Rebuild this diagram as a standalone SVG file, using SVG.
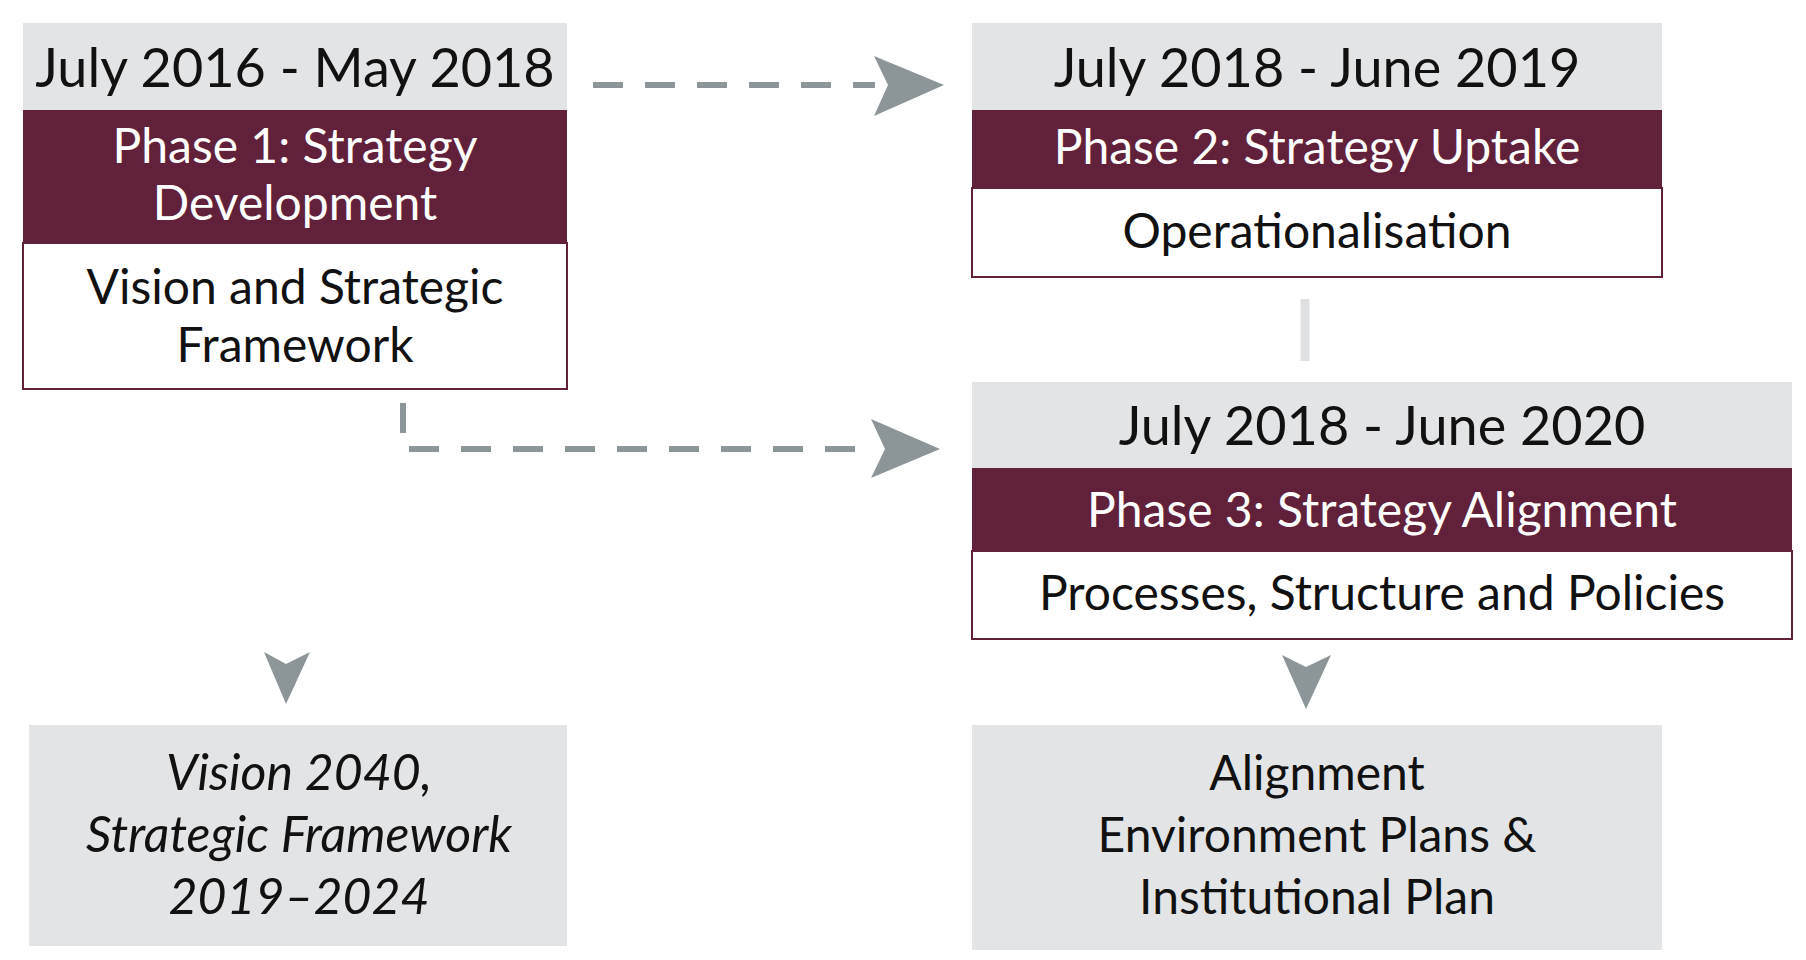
<svg xmlns="http://www.w3.org/2000/svg" width="1806" height="960" viewBox="0 0 1806 960">
<style>
.g{fill:#e3e4e6}
.m{fill:#62213a}
.w{fill:#fff;stroke:#62213a;stroke-width:2}
text{font-family:Lato,"Open Sans",sans-serif;text-anchor:middle}
.h{font-size:54px;fill:#111}
.p{font-size:48px;fill:#fff}
.b{font-size:48px;fill:#111}
.i{font-size:50px;fill:#111;font-style:italic}
.d{fill:none;stroke:#8c9598;stroke-width:6;stroke-dasharray:30,22}
.a{fill:#8c9598}
</style>
<rect width="1806" height="960" fill="#fff"/>
<g id="connectors">
<path class="d" d="M593 85H875"/>
<path class="a" d="M874 56L944 85L874 116L888 85Z"/>
<path class="d" d="M403 403V449H868"/>
<path class="a" d="M871 419L940 449L871 478L885 449Z"/>
<path d="M1305 299V361" stroke="#dfe0e2" stroke-width="9"/>
<path class="a" d="M264 652L286 704L310 652L286 664Z"/>
<path class="a" d="M1282 655L1306 709L1331 655L1306 667Z"/>
</g>
<g id="phase1">
<rect class="g" x="23" y="23" width="544" height="87"/>
<rect class="m" x="23" y="110" width="544" height="133"/>
<rect class="w" x="23" y="243" width="544" height="146"/>
<text class="h" x="295" y="87">July 2016 - May 2018</text>
<text class="p" x="295" y="163">Phase 1: Strategy</text>
<text class="p" x="295" y="220">Development</text>
<text class="b" x="295" y="304">Vision and Strategic</text>
<text class="b" x="295" y="362">Framework</text>
</g>
<g id="phase2">
<rect class="g" x="972" y="23" width="690" height="87"/>
<rect class="m" x="972" y="110" width="690" height="78"/>
<rect class="w" x="972" y="188" width="690" height="89"/>
<text class="h" x="1317" y="87">July 2018 - June 2019</text>
<text class="p" x="1317" y="164">Phase 2: Strategy Uptake</text>
<text class="b" x="1317" y="248">Operationalisation</text>
</g>
<g id="phase3">
<rect class="g" x="972" y="382" width="820" height="86"/>
<rect class="m" x="972" y="468" width="820" height="83"/>
<rect class="w" x="972" y="551" width="820" height="88"/>
<text class="h" x="1382" y="445">July 2018 - June 2020</text>
<text class="p" x="1382" y="527">Phase 3: Strategy Alignment</text>
<text class="b" x="1382" y="610">Processes, Structure and Policies</text>
</g>
<g id="out1">
<rect class="g" x="29" y="725" width="538" height="221"/>
<text class="i" x="299" y="790">Vision 2040,</text>
<text class="i" x="299" y="852">Strategic Framework</text>
<text class="i" x="299" y="914">2019–2024</text>
</g>
<g id="out2">
<rect class="g" x="972" y="725" width="690" height="225"/>
<text class="b" x="1317" y="790">Alignment</text>
<text class="b" x="1317" y="852">Environment Plans &amp;</text>
<text class="b" x="1317" y="914">Institutional Plan</text>
</g>
</svg>
